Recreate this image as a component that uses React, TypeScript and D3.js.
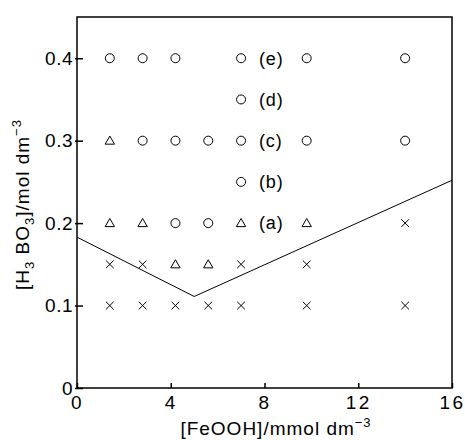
import React, { useEffect, useRef } from 'react';
import * as d3 from 'd3';

// [FeOOH] values (mmol dm-3) and [H3BO3] levels (mol dm-3)
const circles: [number, number][] = [
  [1.4, 0.4], [2.8, 0.4], [4.2, 0.4], [7.0, 0.4], [9.8, 0.4], [14.0, 0.4],
  [7.0, 0.35],
  [2.8, 0.3], [4.2, 0.3], [5.6, 0.3], [7.0, 0.3], [9.8, 0.3], [14.0, 0.3],
  [7.0, 0.25],
  [4.2, 0.2], [5.6, 0.2],
];
const triangles: [number, number][] = [
  [1.4, 0.3],
  [1.4, 0.2], [2.8, 0.2], [7.0, 0.2], [9.8, 0.2],
  [4.2, 0.15], [5.6, 0.15],
];
const crosses: [number, number][] = [
  [14.0, 0.2],
  [1.4, 0.15], [2.8, 0.15], [7.0, 0.15], [9.8, 0.15],
  [1.4, 0.1], [2.8, 0.1], [4.2, 0.1], [5.6, 0.1], [7.0, 0.1], [9.8, 0.1], [14.0, 0.1],
];
const boundary: [number, number][] = [[0, 0.183], [5.0, 0.111], [16, 0.252]];
const labels = [
  { name: '(a)', y: 0.2 },
  { name: '(b)', y: 0.25 },
  { name: '(c)', y: 0.3 },
  { name: '(d)', y: 0.35 },
  { name: '(e)', y: 0.4 },
];
const xTicks = [0, 4, 8, 12, 16];
const yTicks = [0, 0.1, 0.2, 0.3, 0.4];

const FONT = '"Liberation Sans", Arial, Helvetica, sans-serif';

export default function App() {
  const svgRef = useRef<SVGSVGElement>(null);

  useEffect(() => {
    const width = 465, height = 440;
    const margin = { top: 17, right: 13, bottom: 52, left: 77 };

    const svg = d3.select(svgRef.current);
    svg.selectAll('*').remove();
    svg.attr('width', width).attr('height', height).style('font-family', FONT);

    const x = d3.scaleLinear().domain([0, 16]).range([margin.left, width - margin.right]);
    const y = d3.scaleLinear().domain([0, 0.45]).range([height - margin.bottom, margin.top]);

    // frame
    svg.append('rect')
      .attr('x', x(0)).attr('y', y(0.45))
      .attr('width', x(16) - x(0)).attr('height', y(0) - y(0.45))
      .attr('fill', 'none').attr('stroke', '#000').attr('stroke-width', 1.5);

    // x axis
    const gx = svg.append('g')
      .attr('transform', `translate(0,${y(0)})`)
      .call(d3.axisBottom(x).tickValues(xTicks).tickSize(-5).tickPadding(8).tickFormat(d3.format('d')));
    gx.select('.domain').remove();
    gx.selectAll('line').attr('stroke-width', 1.5);
    gx.selectAll('text').attr('font-size', 19).attr('letter-spacing', 2.5)
      .attr('font-family', FONT).attr('fill', '#000');

    // y axis
    const gy = svg.append('g')
      .attr('transform', `translate(${x(0)},0)`)
      .call(d3.axisLeft(y).tickValues(yTicks).tickSize(-6).tickPadding(4)
        .tickFormat(d => (+d === 0 ? '0' : d3.format('.1f')(+d))));
    gy.select('.domain').remove();
    gy.selectAll('line').attr('stroke-width', 1.5).attr('x1', -2);
    gy.selectAll('text').attr('font-size', 19).attr('letter-spacing', 0.5)
      .attr('font-family', FONT).attr('fill', '#000');

    // boundary line
    svg.append('path')
      .datum(boundary)
      .attr('d', d3.line<[number, number]>().x(d => x(d[0])).y(d => y(d[1])))
      .attr('fill', 'none').attr('stroke', '#000').attr('stroke-width', 1);

    const marks = svg.append('g').attr('fill', 'none').attr('stroke', '#000').attr('stroke-width', 1);

    marks.selectAll('circle')
      .data(circles)
      .join('circle')
      .attr('cx', d => x(d[0])).attr('cy', d => y(d[1])).attr('r', 4.5);

    const tri = d3.symbol().type(d3.symbolTriangle).size(38);
    marks.selectAll('path.tri')
      .data(triangles)
      .join('path')
      .attr('class', 'tri')
      .attr('d', tri)
      .attr('transform', d => `translate(${x(d[0])},${y(d[1]) + 0.8})`);

    const cr = d3.symbol().type(d3.symbolX).size(40);
    marks.selectAll('path.cross')
      .data(crosses)
      .join('path')
      .attr('class', 'cross')
      .attr('d', cr)
      .attr('transform', d => `translate(${x(d[0])},${y(d[1])})`);

    // series labels
    svg.append('g')
      .selectAll('text')
      .data(labels)
      .join('text')
      .attr('x', x(7.0) + 18)
      .attr('y', d => y(d.y))
      .attr('dy', '0.35em')
      .attr('font-size', 18)
      .attr('letter-spacing', 0.8)
      .text(d => d.name);

    // x label
    const xl = svg.append('text')
      .attr('x', 276)
      .attr('y', height - 5)
      .attr('text-anchor', 'middle')
      .attr('font-size', 19)
      .attr('letter-spacing', 1);
    xl.append('tspan').text('[FeOOH]/mmol dm');
    xl.append('tspan').attr('font-size', 13).attr('dy', -8).text('−3');

    // y label
    const yl = svg.append('text')
      .attr('transform', `translate(29,${(y(0) + y(0.45)) / 2 + 2}) rotate(-90)`)
      .attr('text-anchor', 'middle')
      .attr('font-size', 19)
      .attr('letter-spacing', 1);
    yl.append('tspan').text('[H');
    yl.append('tspan').attr('font-size', 13).attr('dy', 5).text('3');
    yl.append('tspan').attr('dy', -5).text(' BO');
    yl.append('tspan').attr('font-size', 13).attr('dy', 5).text('3');
    yl.append('tspan').attr('dy', -5).text(']/mol dm');
    yl.append('tspan').attr('font-size', 13).attr('dy', -8).text('−3');
  }, []);

  return <svg ref={svgRef} style={{ position: 'absolute', left: 0, top: 0 }}></svg>;
}
